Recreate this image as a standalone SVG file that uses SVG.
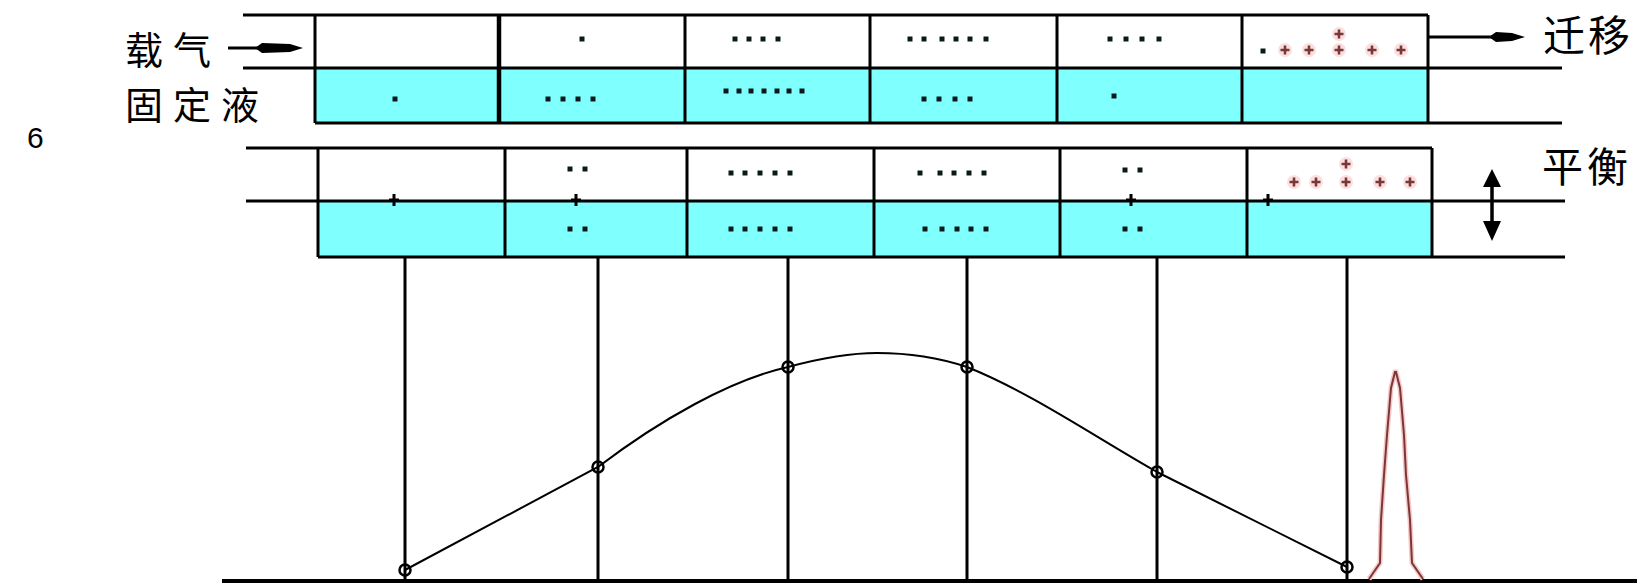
<svg xmlns="http://www.w3.org/2000/svg" width="1637" height="584" viewBox="0 0 1637 584">
<style>
.ln{stroke:#000;stroke-width:3;fill:none}
.liq{fill:#80ffff}
.dot{fill:#0a1a1a}
.bx{stroke:#000;stroke-width:3;fill:none}
.rx{stroke:#7b3737;stroke-width:2.6;fill:none}
.halo{fill:#fbe0e0}
.cjk{font-family:"Noto Sans CJK SC","Noto Sans CJK TC",sans-serif;fill:#000}
.crv{stroke:#000;stroke-width:2;fill:none}
.mk{stroke:#000;stroke-width:2.5;fill:none}
</style>
<defs>
<rect id="d" x="-2.5" y="-2.5" width="5" height="5" class="dot"/>
<path id="bp" d="M-5,0H5M0,-6V6" class="bx"/>
<g id="rp"><circle r="7" class="halo"/><path d="M-4.5,0H4.5M0,-4.5V4.5" class="rx"/></g>
</defs>
<rect width="1637" height="584" fill="#fff"/>

<g id="labels">
<text class="cjk" x="125" y="64" font-size="38" letter-spacing="10">载气</text>
<text class="cjk" x="125" y="119" font-size="38" letter-spacing="10">固定液</text>
<text x="27" y="148" font-family="Liberation Sans, sans-serif" font-size="30">6</text>
<text class="cjk" x="1543" y="51" font-size="42" letter-spacing="3">迁移</text>
<text class="cjk" x="1542" y="182" font-size="41" letter-spacing="4">平衡</text>
</g>

<g id="band1">
<rect class="liq" x="315" y="68" width="1113" height="55"/>
<path class="ln" d="M243,15H1428M243,68H1562M315,123H1562"/>
<path class="ln" d="M315,15V123M685,15V123M870,15V123M1057,15V123M1242,15V123M1428,15V123"/>
<path d="M499,15V123" stroke="#000" stroke-width="4.5"/>
<use href="#d" x="582" y="39"/>
<use href="#d" x="735" y="39"/><use href="#d" x="749" y="39"/><use href="#d" x="763" y="39"/><use href="#d" x="778" y="39"/>
<use href="#d" x="910" y="39"/><use href="#d" x="924" y="39"/><use href="#d" x="942" y="39"/><use href="#d" x="956" y="39"/><use href="#d" x="970" y="39"/><use href="#d" x="986" y="39"/>
<use href="#d" x="1110" y="39"/><use href="#d" x="1126" y="39"/><use href="#d" x="1142" y="39"/><use href="#d" x="1159" y="39"/>
<use href="#d" x="1263" y="51"/>
<use href="#rp" x="1285" y="50"/><use href="#rp" x="1309" y="50"/><use href="#rp" x="1339" y="50"/><use href="#rp" x="1339" y="34"/><use href="#rp" x="1372" y="50"/><use href="#rp" x="1401" y="50"/>
<use href="#d" x="395" y="99"/>
<use href="#d" x="548" y="99"/><use href="#d" x="563" y="99"/><use href="#d" x="578" y="99"/><use href="#d" x="593" y="99"/>
<use href="#d" x="726" y="91"/><use href="#d" x="739" y="91"/><use href="#d" x="751" y="91"/><use href="#d" x="764" y="91"/><use href="#d" x="777" y="91"/><use href="#d" x="789" y="91"/><use href="#d" x="802" y="91"/>
<use href="#d" x="924" y="99"/><use href="#d" x="939" y="99"/><use href="#d" x="955" y="99"/><use href="#d" x="970" y="99"/>
<use href="#d" x="1114" y="96"/>
</g>

<g id="band2">
<rect class="liq" x="318" y="201" width="1114" height="56"/>
<path class="ln" d="M246,148H1432M246,201H1565M318,257H1565"/>
<path class="ln" d="M318,148V257M505,148V257M687,148V257M874,148V257M1060,148V257M1247,148V257M1432,148V257"/>
<use href="#bp" x="394" y="200"/>
<use href="#d" x="570" y="169"/><use href="#d" x="585" y="169"/>
<use href="#bp" x="576" y="200"/>
<use href="#d" x="570" y="229"/><use href="#d" x="585" y="229"/>
<use href="#d" x="731" y="173"/><use href="#d" x="745" y="173"/><use href="#d" x="760" y="173"/><use href="#d" x="775" y="173"/><use href="#d" x="790" y="173"/>
<use href="#d" x="731" y="229"/><use href="#d" x="745" y="229"/><use href="#d" x="760" y="229"/><use href="#d" x="775" y="229"/><use href="#d" x="790" y="229"/>
<use href="#d" x="920" y="173"/><use href="#d" x="940" y="173"/><use href="#d" x="954" y="173"/><use href="#d" x="969" y="173"/><use href="#d" x="984" y="173"/>
<use href="#d" x="925" y="229"/><use href="#d" x="942" y="229"/><use href="#d" x="957" y="229"/><use href="#d" x="971" y="229"/><use href="#d" x="986" y="229"/>
<use href="#d" x="1125" y="170"/><use href="#d" x="1140" y="170"/>
<use href="#bp" x="1131" y="200"/>
<use href="#d" x="1125" y="229"/><use href="#d" x="1140" y="229"/>
<use href="#bp" x="1268" y="200"/>
<use href="#rp" x="1294" y="182"/><use href="#rp" x="1316" y="182"/><use href="#rp" x="1346" y="182"/><use href="#rp" x="1346" y="164"/><use href="#rp" x="1380" y="182"/><use href="#rp" x="1410" y="182"/>
</g>

<g id="chart">
<path d="M222,581H1637" stroke="#000" stroke-width="4"/>
<path d="M1369,579L1380,563L1381,520L1384,475L1387,435L1391,388L1395,372L1396,372L1400,388L1404,435L1406,475L1410,520L1412,563L1423,579" stroke="#f7c8c8" stroke-width="5" fill="none"/>
<path d="M1369,579L1380,563L1381,520L1384,475L1387,435L1391,388L1395,372L1396,372L1400,388L1404,435L1406,475L1410,520L1412,563L1423,579" stroke="#7b3737" stroke-width="2" fill="none"/>
</g>

<g id="connectors">
<path d="M228,48H258" class="ln"/>
<path d="M255,48L262,43L290,44L303,48L290,52L262,53Z" fill="#000"/>
<path d="M1428,37H1492" class="ln"/>
<path d="M1489,37L1496,32L1512,33L1525,37L1512,41L1496,42Z" fill="#000"/>
<path d="M1492,186V222" stroke="#000" stroke-width="3.5"/>
<path d="M1492,169L1501,187L1483,187Z M1492,241L1501,221L1483,221Z" fill="#000"/>
<path class="ln" d="M405,257V581M598,257V581M788,257V581M967,257V581M1157,257V581M1347,257V581"/>
<path class="crv" d="M405,570L598,467C660,420 730,380 788,367C825,357 850,353 877,353C910,353 940,358 967,367C1030,392 1100,440 1157,472L1347,567"/>
<circle class="mk" cx="405" cy="570" r="5.5"/>
<circle class="mk" cx="598" cy="467" r="5.5"/>
<circle class="mk" cx="788" cy="367" r="5.5"/>
<circle class="mk" cx="967" cy="367" r="5.5"/>
<circle class="mk" cx="1157" cy="472" r="5.5"/>
<circle class="mk" cx="1347" cy="567" r="5.5"/>
</g>
</svg>
